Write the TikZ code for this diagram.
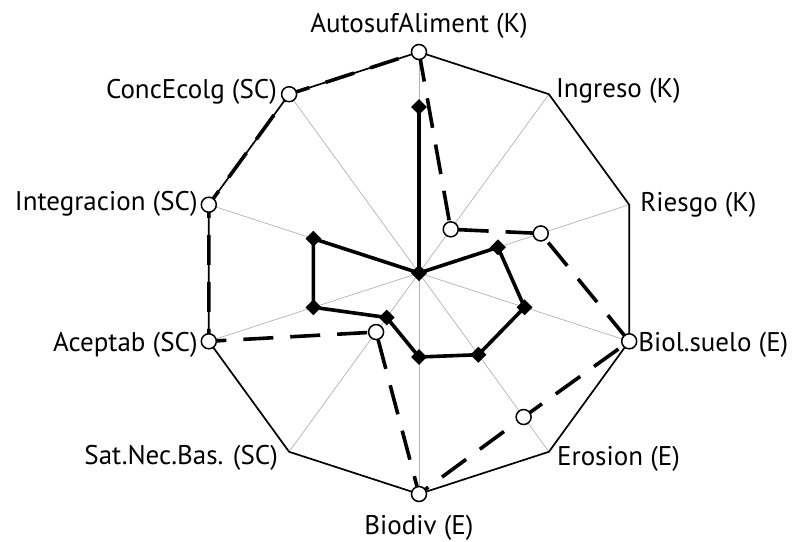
\documentclass[tikz,border=0pt]{standalone}
\usepackage{fontspec}
\setmainfont{PT Sans}
\usetikzlibrary{shapes.geometric}
\begin{document}
\begin{tikzpicture}
    [x=1pt,y=1pt,
     spoke/.style={draw=black!30,line width=0.7pt},
     rim/.style={line width=1.7pt},
     seriesopen/.style={line width=3.6pt,dash pattern=on 30pt off 17pt},
     seriesfull/.style={line width=3.6pt},
     opendot/.style={circle,draw,fill=white,line width=1.5pt,inner sep=0pt,minimum size=15pt},
     fulldot/.style={diamond,fill=black,inner sep=0pt,minimum size=16pt},
     axlabel/.style={inner sep=0pt,font=\fontsize{27}{31}\selectfont}]
    \useasboundingbox (-419,-268) rectangle (375,273);
    % axes
    \coordinate (centre) at (0,0);
    \coordinate (autosuf) at (90:221);
    \coordinate (ingreso) at (54:221);
    \coordinate (riesgo) at (18:221);
    \coordinate (biol) at (-18:221);
    \coordinate (erosion) at (-54:221);
    \coordinate (biodiv) at (-90:221);
    \coordinate (satnec) at (-126:221);
    \coordinate (aceptab) at (-162:221);
    \coordinate (integ) at (162:221);
    \coordinate (conc) at (126:221);
    \draw [spoke] (centre) -- (autosuf);
    \draw [spoke] (centre) -- (ingreso);
    \draw [spoke] (centre) -- (riesgo);
    \draw [spoke] (centre) -- (biol);
    \draw [spoke] (centre) -- (erosion);
    \draw [spoke] (centre) -- (biodiv);
    \draw [spoke] (centre) -- (satnec);
    \draw [spoke] (centre) -- (aceptab);
    \draw [spoke] (centre) -- (integ);
    \draw [spoke] (centre) -- (conc);
    \draw [rim] (autosuf) -- (ingreso) -- (riesgo) -- (biol) -- (erosion) -- (biodiv)
      -- (satnec) -- (aceptab) -- (integ) -- (conc) -- cycle;
    % labels
    \node (autosuf-lab) at (autosuf) [axlabel,anchor=base,yshift=19pt] {AutosufAliment (K)};
    \node (ingreso-lab) at (ingreso) [axlabel,anchor=base west,xshift=7pt,yshift=-3pt] {Ingreso (K)};
    \node (riesgo-lab) at (riesgo) [axlabel,anchor=base west,xshift=11pt,yshift=-7pt] {Riesgo (K)};
    \node (biol-lab) at (biol) [axlabel,anchor=base west,xshift=9pt,yshift=-10pt] {Biol.suelo (E)};
    \node (erosion-lab) at (erosion) [axlabel,anchor=base west,xshift=8pt,yshift=-14pt] {Erosion (E)};
    \node (biodiv-lab) at (biodiv) [axlabel,anchor=base,yshift=-40pt] {Biodiv (E)};
    \node (satnec-lab) at (satnec) [axlabel,anchor=base east,xshift=-11pt,yshift=-13pt] {Sat.Nec.Bas. (SC)};
    \node (aceptab-lab) at (aceptab) [axlabel,anchor=base east,xshift=-11pt,yshift=-10pt] {Aceptab (SC)};
    \node (integ-lab) at (integ) [axlabel,anchor=base east,xshift=-11pt,yshift=-6pt] {Integracion (SC)};
    \node (conc-lab) at (conc) [axlabel,anchor=base east,xshift=-12pt,yshift=-4pt] {ConcEcolg (SC)};
    % series with diamonds
    \coordinate (d-autosuf) at (90:166);
    \coordinate (d-ingreso) at (54:0);
    \coordinate (d-riesgo) at (18:83);
    \coordinate (d-biol) at (-18:111);
    \coordinate (d-erosion) at (-54:101);
    \coordinate (d-biodiv) at (-90:84);
    \coordinate (d-satnec) at (-126:55);
    \coordinate (d-aceptab) at (-162:111);
    \coordinate (d-integ) at (162:111);
    \coordinate (d-conc) at (126:0);
    % series with circles
    \coordinate (o-autosuf) at (90:221);
    \coordinate (o-ingreso) at (54:54);
    \coordinate (o-riesgo) at (18:128);
    \coordinate (o-biol) at (-18:221);
    \coordinate (o-erosion) at (-54:178);
    \coordinate (o-biodiv) at (-90:221);
    \coordinate (o-satnec) at (-126:73);
    \coordinate (o-aceptab) at (-162:221);
    \coordinate (o-integ) at (162:221);
    \coordinate (o-conc) at (126:221);
    \draw [seriesfull] (d-autosuf) -- (d-ingreso) -- (d-riesgo) -- (d-biol) -- (d-erosion)
      -- (d-biodiv) -- (d-satnec) -- (d-aceptab) -- (d-integ) -- (d-conc) -- cycle;
    \draw [seriesopen] (o-autosuf) -- (o-ingreso) -- (o-riesgo) -- (o-biol) -- (o-erosion)
      -- (o-biodiv) -- (o-satnec) -- (o-aceptab) -- (o-integ) -- (o-conc) -- cycle;
    \node (dm-autosuf) at (d-autosuf) [fulldot] {};
    \node (dm-ingreso) at (d-ingreso) [fulldot] {};
    \node (dm-riesgo) at (d-riesgo) [fulldot] {};
    \node (dm-biol) at (d-biol) [fulldot] {};
    \node (dm-erosion) at (d-erosion) [fulldot] {};
    \node (dm-biodiv) at (d-biodiv) [fulldot] {};
    \node (dm-satnec) at (d-satnec) [fulldot] {};
    \node (dm-aceptab) at (d-aceptab) [fulldot] {};
    \node (dm-integ) at (d-integ) [fulldot] {};
    \node (dm-conc) at (d-conc) [fulldot] {};
    \node (om-autosuf) at (o-autosuf) [opendot] {};
    \node (om-ingreso) at (o-ingreso) [opendot] {};
    \node (om-riesgo) at (o-riesgo) [opendot] {};
    \node (om-biol) at (o-biol) [opendot] {};
    \node (om-erosion) at (o-erosion) [opendot] {};
    \node (om-biodiv) at (o-biodiv) [opendot] {};
    \node (om-satnec) at (o-satnec) [opendot] {};
    \node (om-aceptab) at (o-aceptab) [opendot] {};
    \node (om-integ) at (o-integ) [opendot] {};
    \node (om-conc) at (o-conc) [opendot] {};
\end{tikzpicture}
\end{document}
